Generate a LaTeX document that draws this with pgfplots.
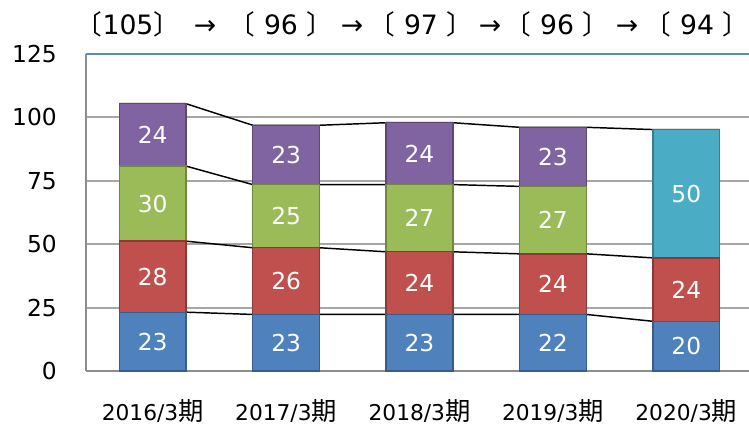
\documentclass[border=0pt]{standalone}
\usepackage{fontspec}
\setmainfont{DejaVu Sans}
\newfontfamily\cjk{Noto Sans CJK JP}
\usepackage{pgfplots}
\pgfplotsset{compat=1.18}

\definecolor{cblue}{HTML}{4F81BD}   \definecolor{dblue}{HTML}{385D8A}
\definecolor{cred}{HTML}{C0504D}    \definecolor{dred}{HTML}{8C3836}
\definecolor{cgreen}{HTML}{9BBB59}  \definecolor{dgreen}{HTML}{71893F}
\definecolor{cpurple}{HTML}{8064A2} \definecolor{dpurple}{HTML}{5C4776}
\definecolor{cteal}{HTML}{4BACC6}   \definecolor{dteal}{HTML}{357D91}
\definecolor{gridgray}{HTML}{A6A6A6}
\definecolor{axgray}{HTML}{898E93}
\definecolor{topblue}{HTML}{5A8AC6}

\newcommand{\ki}{{\cjk\fontsize{19}{19}\selectfont 期}}

\begin{document}
\begin{tikzpicture}
\path[use as bounding box] (-64.5pt,-40.5pt) rectangle (497.25pt,278.25pt);
\begin{axis}[
    at={(0,0)}, anchor=south west,
    scale only axis, width=497.25pt, height=237.75pt,
    xmin=-0.5, xmax=4.47, ymin=0, ymax=125,
    clip=false, no markers,
    axis x line*=bottom, axis y line*=left,
    axis line style={draw=axgray, line width=1.5pt},
    major tick length=0pt,
    /pgf/number format/assume math mode=true,
    xtick={0,1,2,3,4},
    xticklabels={2016/3\ki, 2017/3\ki, 2018/3\ki, 2019/3\ki, 2020/3\ki},
    xticklabel style={anchor=base, inner sep=0pt, yshift=-36.75pt,
        font=\fontsize{16.3}{16.3}\selectfont},
    ytick={0,25,50,75,100},
    extra y ticks={125},
    extra y tick style={major grid style={draw=topblue, line width=1.5pt}},
    yticklabel style={anchor=east, inner sep=0pt, xshift=-21.75pt,
        font=\fontsize{17.5}{17.5}\selectfont},
    ymajorgrids,
    major grid style={draw=gridgray, line width=1.4pt},
]
% connector lines (drawn first, bars cover their flat parts)
\addplot[black, line width=1.1pt] coordinates {(-0.25,23.2) (0.25,23.2) (0.75,22.3) (1.25,22.3) (1.75,22.3) (2.25,22.3) (2.75,22.3) (3.25,22.3) (3.75,19.6) (4.25,19.6)};
\addplot[black, line width=1.1pt] coordinates {(-0.25,51.2) (0.25,51.2) (0.75,48.6) (1.25,48.6) (1.75,47.0) (2.25,47.0) (2.75,46.2) (3.25,46.2) (3.75,44.6) (4.25,44.6)};
\addplot[black, line width=1.1pt] coordinates {(-0.25,80.8) (0.25,80.8) (0.75,73.5) (1.25,73.5) (1.75,73.5) (2.25,73.5) (2.75,72.8) (3.25,72.8)};
\addplot[black, line width=1.1pt] coordinates {(-0.25,105.4) (0.25,105.4) (0.75,96.9) (1.25,96.9) (1.75,97.9) (2.25,97.9) (2.75,96.1) (3.25,96.1) (3.75,95.2) (4.25,95.2)};

% bars: cumulative tops, tallest first
\addplot[ybar, bar width=0.5, bar shift=0pt, fill=cpurple, draw=dpurple, line width=1pt] coordinates {(0,105.4) (1,96.9) (2,97.9) (3,96.1)};
\addplot[ybar, bar width=0.5, bar shift=0pt, fill=cteal, draw=dteal, line width=1pt] coordinates {(4,95.2)};
\addplot[ybar, bar width=0.5, bar shift=0pt, fill=cgreen, draw=dgreen, line width=1pt] coordinates {(0,80.8) (1,73.5) (2,73.5) (3,72.8)};
\addplot[ybar, bar width=0.5, bar shift=0pt, fill=cred, draw=dred, line width=1pt] coordinates {(0,51.2) (1,48.6) (2,47.0) (3,46.2) (4,44.6)};
\addplot[ybar, bar width=0.5, bar shift=0pt, fill=cblue, draw=dblue, line width=1pt] coordinates {(0,23.2) (1,22.3) (2,22.3) (3,22.3) (4,19.6)};

% segment labels
\addplot[draw=none, nodes near coords, point meta=explicit symbolic,
    every node near coord/.append style={anchor=center, text=white, inner sep=0pt,
        font=\fontsize{17.5}{17.5}\selectfont}]
coordinates {
 (0,11.6)[23] (0,37.2)[28] (0,66.0)[30] (0,93.1)[24]
 (1,11.2)[23] (1,35.5)[26] (1,61.0)[25] (1,85.2)[23]
 (2,11.2)[23] (2,34.7)[24] (2,60.3)[27] (2,85.7)[24]
 (3,11.2)[22] (3,34.3)[24] (3,59.5)[27] (3,84.5)[23]
 (4,9.8)[20] (4,32.1)[24] (4,69.9)[50]
};
\end{axis}
\begin{scope}[shift={(-64.5pt,278.25pt)}, x=0.75pt, y=-0.75pt,
    every node/.style={anchor=base, inner sep=0pt, font=\fontsize{20}{20}\selectfont}]
\node at (128,35) {{\cjk 〔}105{\cjk 〕}};
\node at (205,35) {→};
\node at (281,35) {{\cjk 〔} 96 {\cjk 〕}};
\node at (352,35) {→};
\node at (421,35) {{\cjk 〔} 97 {\cjk 〕}};
\node at (490,35) {→};
\node at (557,35) {{\cjk 〔} 96 {\cjk 〕}};
\node at (627,35) {→};
\node at (697,35) {{\cjk 〔} 94 {\cjk 〕}};
\end{scope}
\end{tikzpicture}
\end{document}
